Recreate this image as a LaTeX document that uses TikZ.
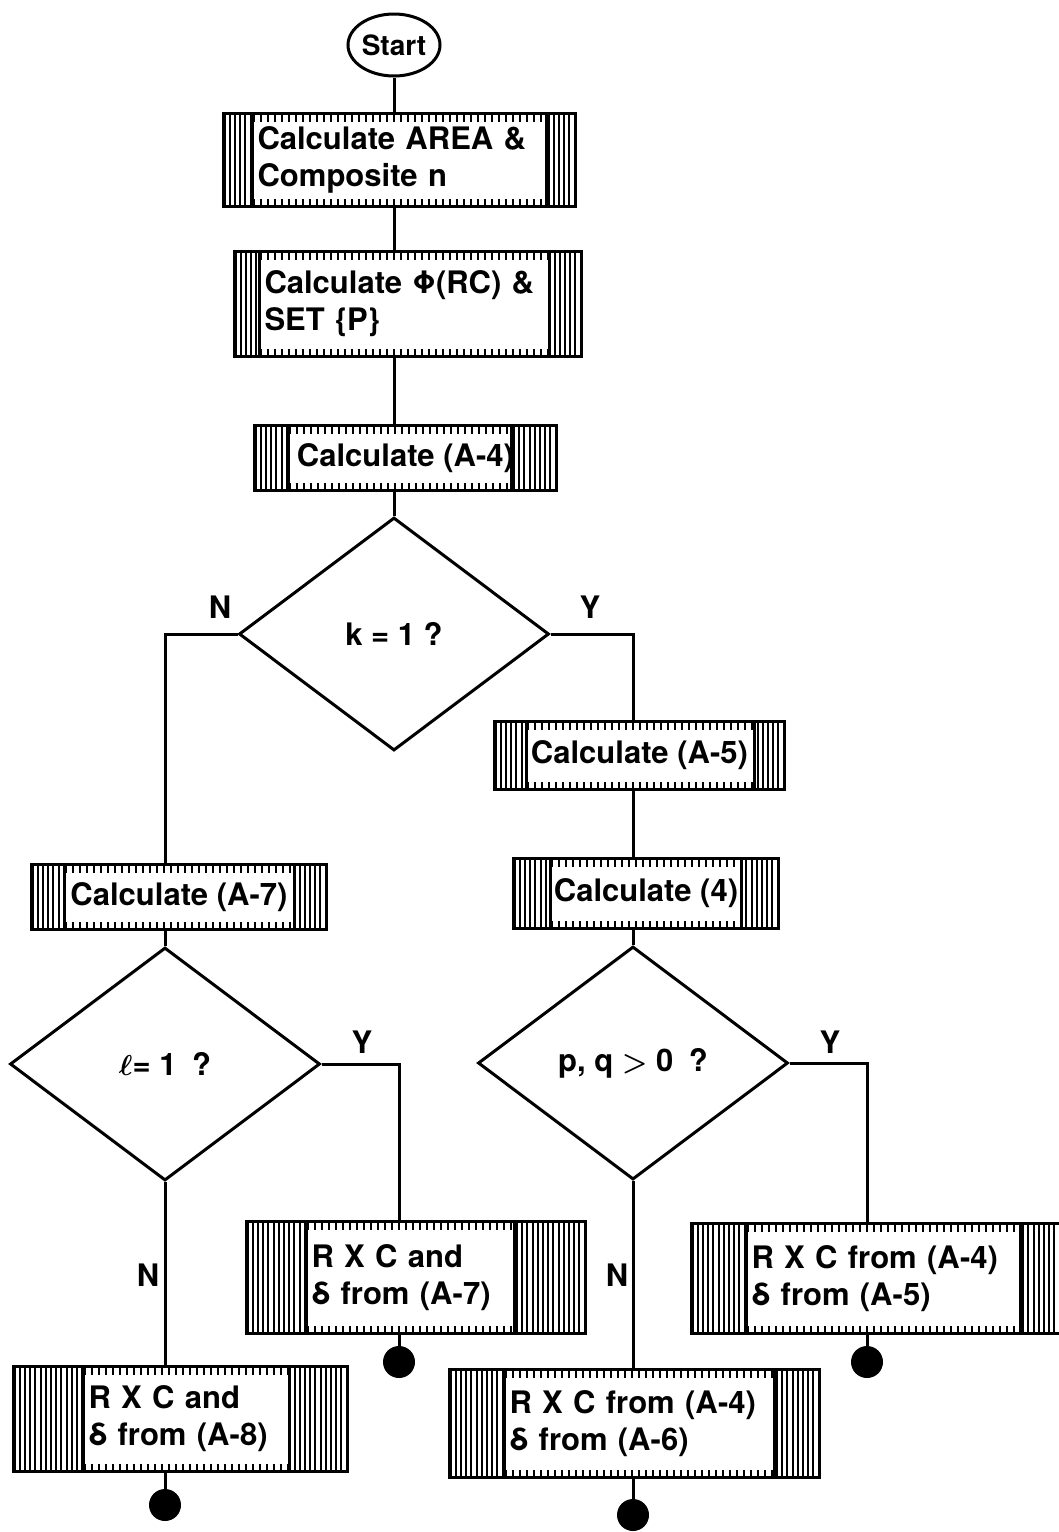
\documentclass[tikz,border=0pt]{standalone}
\usepackage{fontspec}
\setmainfont{TeX Gyre Heros}
\usetikzlibrary{shapes.geometric}

\newcommand{\boxfont}{\fontsize{15.5}{18.5}\selectfont\bfseries}

\tikzset{
  flow/.style={line width=1.5pt},
  % striped process box: width, height, left band, right band
  calcbox/.style n args={4}{draw, line width=1.5pt, anchor=north west,
    minimum width=#1, minimum height=#2, inner sep=2pt,
    align=left, font=\boxfont,
    path picture={
      % side bands of vertical stripes
      \draw[line width=2*#2, dash pattern=on 1pt off 1.6pt]
        (path picture bounding box.west) -- ++(#3,0);
      \draw[line width=2*#2, dash pattern=on 1pt off 1.6pt]
        (path picture bounding box.east) -- ++(-#4,0);
      \draw[line width=1.5pt]
        ([xshift=#3]path picture bounding box.north west)
        -- ([xshift=#3]path picture bounding box.south west);
      \draw[line width=1.5pt]
        ([xshift=-#4]path picture bounding box.north east)
        -- ([xshift=-#4]path picture bounding box.south east);
      % tick rows along top and bottom
      \draw[line width=4pt, line cap=butt, dash pattern=on 1.2pt off 2.3pt]
        ([xshift=#3, yshift=-2pt]path picture bounding box.north west)
        -- ([xshift=-#4, yshift=-2pt]path picture bounding box.north east);
      \draw[line width=4pt, line cap=butt, dash pattern=on 1.2pt off 2.3pt]
        ([xshift=#3, yshift=2pt]path picture bounding box.south west)
        -- ([xshift=-#4, yshift=2pt]path picture bounding box.south east);
    }},
  % the same with text set flush after the left band
  resultbox/.style n args={4}{calcbox={#1}{#2}{#3}{#4},
    inner xsep=#3+2.5pt, text width=#1-2*#3-5pt},
  decision/.style={draw, diamond, line width=1.5pt, minimum width=155pt,
    minimum height=116.5pt, inner sep=0pt, font=\boxfont},
  startnode/.style={draw, ellipse, line width=1.5pt, minimum width=46pt,
    minimum height=31pt, inner sep=0pt, font=\fontsize{14}{16}\selectfont\bfseries},
  stopdot/.style={circle, fill, minimum size=16pt, inner sep=0pt},
  yn/.style={font=\boxfont}
}

\begin{document}
\begin{tikzpicture}[x=0.5pt, y=-0.5pt]
  \useasboundingbox (0,0) rectangle (1059,1532);

  % columns of the connectors
  \coordinate (colL) at (165,0);
  \coordinate (colLR) at (399,0);
  \coordinate (colR) at (633,0);
  \coordinate (colRR) at (867,0);

  % main column
  \node[startnode] (start) at (394,45) {Start};
  \node[resultbox={176pt}{46.5pt}{14.5pt}{14.5pt}] (area) at (222,112)
    {Calculate AREA \&\\Composite n};
  \node[resultbox={173.5pt}{52.5pt}{12.5pt}{16pt}] (phi) at (233,250)
    {Calculate Φ(RC) \&\\SET \{P\}};
  \node[calcbox={151pt}{32.5pt}{17pt}{22.5pt}] (a4) at (253,424)
    {Calculate (A-4)};
  \node[decision] (k1) at (394,634) {k = 1 ?};

  % right branch
  \node[calcbox={145pt}{34pt}{16pt}{15pt}] (a5) at (493,720)
    {Calculate (A-5)};
  \node[calcbox={132.5pt}{35pt}{18.5pt}{18.5pt}] (c4) at (512,857)
    {Calculate (4)};
  \node[decision] (pq) at (633,1063) {p, q {\boldmath$>$} 0\enspace ?};
  \node[resultbox={184.5pt}{55pt}{27.5pt}{20pt}] (ra5) at (690,1222)
    {R X C from (A-4)\\δ from (A-5)};
  \node[resultbox={185pt}{54pt}{27.5pt}{22.5pt}] (ra6) at (448,1368)
    {R X C from (A-4)\\δ from (A-6)};

  % left branch
  \node[calcbox={147.5pt}{32.5pt}{16.5pt}{16pt}] (a7) at (30,863)
    {Calculate (A-7)};
  \node[decision] (l1) at (165,1064) {{\boldmath$\ell$}= 1\enspace ?};
  \node[resultbox={169.5pt}{56pt}{30pt}{35.5pt}] (ra7) at (245,1220)
    {R X C and\\δ from (A-7)};
  \node[resultbox={167pt}{52.5pt}{35pt}{29pt}] (ra8) at (12,1365)
    {R X C and\\δ from (A-8)};

  % end points
  \node[stopdot] (dot1) at (399,1362) {};
  \node[stopdot] (dot2) at (165,1505) {};
  \node[stopdot] (dot3) at (867,1362) {};
  \node[stopdot] (dot4) at (633,1515) {};

  % branch labels
  \node[yn] (n1) at (220,607) {N};
  \node[yn] (y1) at (590,607) {Y};
  \node[yn] (y2) at (362,1042) {Y};
  \node[yn] (n2) at (148,1275) {N};
  \node[yn] (y3) at (830,1042) {Y};
  \node[yn] (n3) at (617,1275) {N};

  % connectors
  \draw[flow] (start.south) -- (start.south |- area.north);
  \draw[flow] (area.south -| start) -- (phi.north -| start);
  \draw[flow] (phi.south -| start) -- (a4.north -| start);
  \draw[flow] (a4.south -| start) -- (k1.north);
  \draw[flow] (k1.west) -| (a7.north -| colL);
  \draw[flow] (k1.east) -| (a5.north -| colR);
  \draw[flow] (a5.south -| colR) -- (c4.north -| colR);
  \draw[flow] (c4.south -| colR) -- (pq.north);
  \draw[flow] (pq.east) -| (ra5.north -| colRR);
  \draw[flow] (ra5.south -| colRR) -- (dot3);
  \draw[flow] (pq.south) -- (ra6.north -| pq);
  \draw[flow] (ra6.south -| pq) -- (dot4);
  \draw[flow] (a7.south -| colL) -- (l1.north);
  \draw[flow] (l1.east) -| (ra7.north -| colLR);
  \draw[flow] (ra7.south -| colLR) -- (dot1);
  \draw[flow] (l1.south) -- (ra8.north -| l1);
  \draw[flow] (ra8.south -| l1) -- (dot2);
\end{tikzpicture}
\end{document}
